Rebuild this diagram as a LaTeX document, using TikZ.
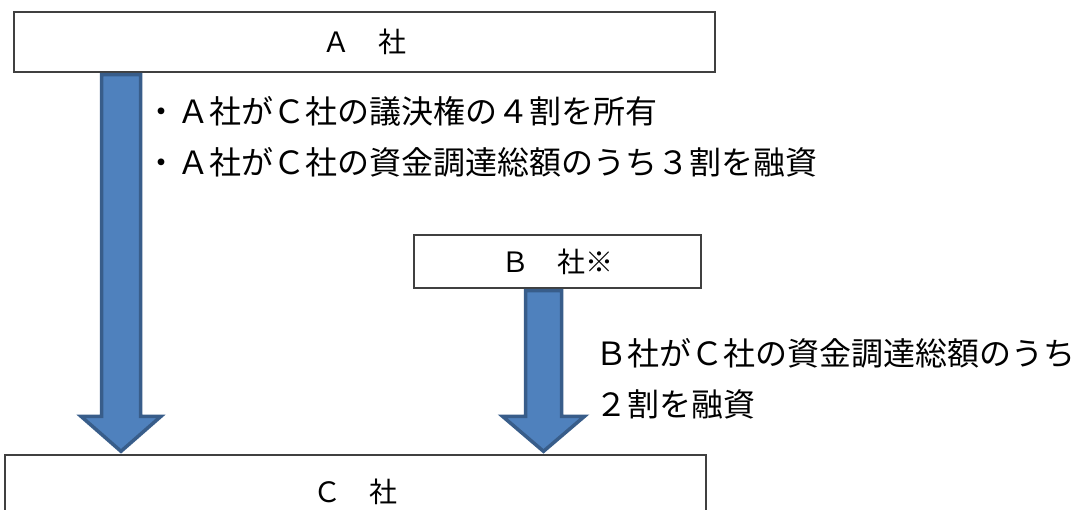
\documentclass[tikz,border=0pt]{standalone}
\usepackage{fontspec}
\setmainfont{Noto Sans CJK JP}
\usetikzlibrary{calc}
\definecolor{arrowfill}{HTML}{4F81BD}
\definecolor{arrowline}{HTML}{385D8A}
\definecolor{boxline}{HTML}{404040}
\tikzset{
  company/.style={draw=boxline, line width=1.4pt, fill=white, inner sep=0pt,
    font=\fontsize{28}{32}\selectfont},
  bigarrow/.style={fill=arrowfill, draw=arrowline, line width=3.5pt, line join=miter},
  note/.style={inner sep=0pt, anchor=west, align=left, font=\fontsize{32}{51}\selectfont},
}
% #1 from, #2 to, #3 half shaft, #4 half head, #5 head length
\newcommand\blockarrow[5]{%
  \draw[bigarrow] let \p1=(#1), \p2=(#2) in
    (\x1-#3pt,\y1) -- (\x1-#3pt,\y2+#5pt) -- (\x1-#4pt,\y2+#5pt) -- (\x2,\y2+3pt)
    -- (\x1+#4pt,\y2+#5pt) -- (\x1+#3pt,\y2+#5pt) -- (\x1+#3pt,\y1) -- cycle;}
\begin{document}
\begin{tikzpicture}[x=1pt,y=-1pt]
\clip (0,0) rectangle (1075,509);
\useasboundingbox (0,0) rectangle (1075,509);
\fill[white] (0,0) rectangle (1075,509);
\node[company, minimum width=701pt, minimum height=60pt] (A) at (364.5,42) {\raisebox{-3pt}{Ａ　社}};
\node[company, minimum width=287pt, minimum height=53pt] (B) at (557.5,261.5) {\raisebox{-2pt}{Ｂ　社※}};
\node[company, minimum width=701pt, minimum height=74pt] (C) at (355.5,492) {Ｃ　社};
\coordinate (ax) at (121,0);
\coordinate (bx) at (543.5,0);
\coordinate (aTop) at ($(ax |- A.south)+(0,2)$);
\coordinate (aTip) at (ax |- C.north);
\coordinate (bTop) at ($(bx |- B.south)+(0,2)$);
\coordinate (bTip) at (bx |- C.north);
\blockarrow{aTop}{aTip}{19.5}{40}{38}
\blockarrow{bTop}{bTip}{18}{41}{38}
\node[note] (t1) at (145,137) {・Ａ社がＣ社の議決権の４割を所有\\・Ａ社がＣ社の資金調達総額のうち３割を融資};
\node[note] (t2) at (595,379) {Ｂ社がＣ社の資金調達総額のうち\\２割を融資};
\end{tikzpicture}
\end{document}
